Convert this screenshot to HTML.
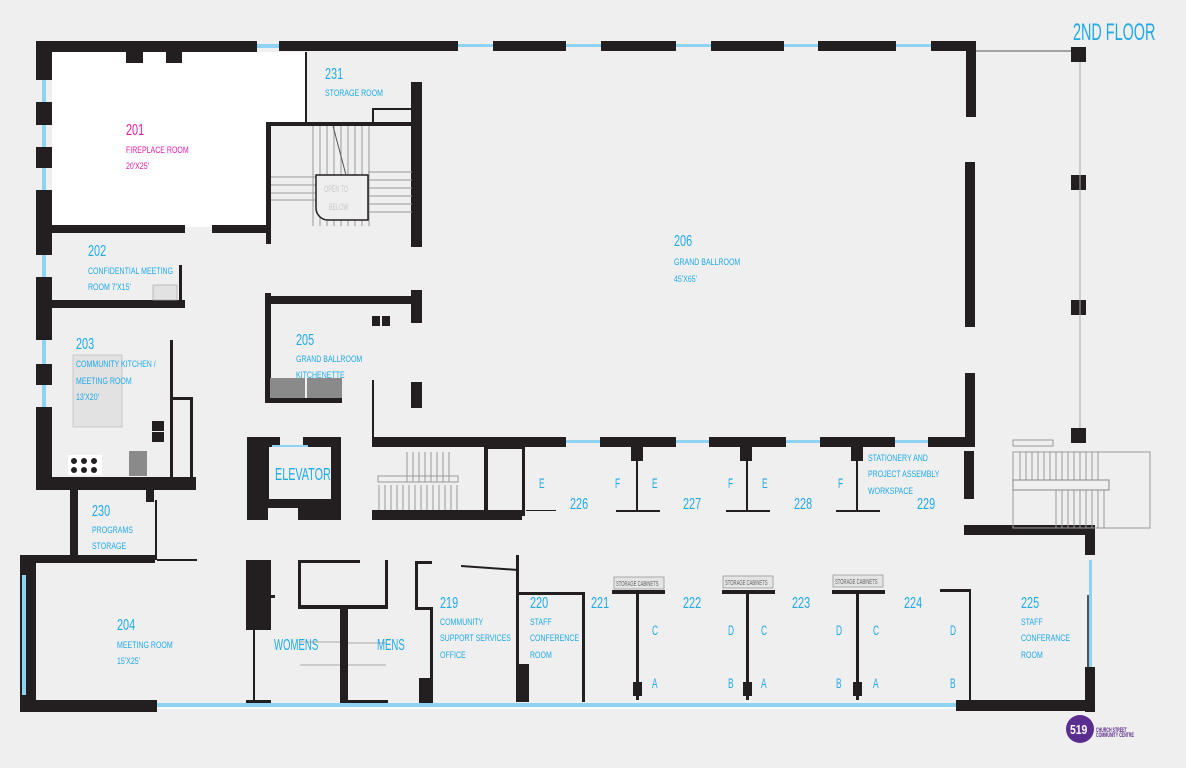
<!DOCTYPE html>
<html><head><meta charset="utf-8"><style>
html,body{margin:0;padding:0;background:#efefef;}
svg{display:block;}
text{font-family:"Liberation Sans",sans-serif;fill:#1fa9e6;transform-box:fill-box;transform-origin:0 50%;transform:scaleX(0.6);}
text.s{font-size:9px;transform:scaleX(0.78);}
.n{font-size:16px;}
text.n{transform:scaleX(0.68);}
.L{font-size:14px;}
</style></head><body>
<svg width="1186" height="768" viewBox="0 0 1186 768" xmlns="http://www.w3.org/2000/svg">
<rect width="1186" height="768" fill="#efefef"/>
<rect x="52" y="52" width="214" height="175" fill="#fff"/>
<rect x="266" y="52" width="40" height="70" fill="#fff"/>
<g fill="#231f20">
<rect x="36" y="41" width="221" height="11"/>
<rect x="279" y="41" width="179" height="10"/>
<rect x="493" y="41" width="73" height="10"/>
<rect x="601" y="41" width="75" height="10"/>
<rect x="711" y="41" width="73" height="10"/>
<rect x="818" y="41" width="78" height="10"/>
<rect x="931" y="41" width="45" height="10"/>
<rect x="126" y="52" width="17" height="11"/><rect x="166" y="52" width="16" height="11"/>
<rect x="966" y="41" width="10" height="76"/>
<rect x="965" y="162" width="10" height="165"/>
<rect x="965" y="373" width="10" height="72"/>
<rect x="1071" y="47" width="15" height="15"/>
<rect x="1071" y="175" width="15" height="15"/>
<rect x="1071" y="300" width="15" height="15"/>
<rect x="1071" y="428" width="15" height="15"/>
<rect x="36" y="41" width="16" height="39"/>
<rect x="36" y="102" width="16" height="23"/>
<rect x="36" y="147" width="16" height="21"/>
<rect x="36" y="190" width="16" height="65"/>
<rect x="36" y="277" width="16" height="63"/>
<rect x="36" y="364" width="16" height="21"/>
<rect x="36" y="407" width="16" height="83"/>
<rect x="52" y="225" width="133" height="8"/>
<rect x="212" y="225" width="58" height="8"/>
<rect x="266" y="122" width="5" height="122"/>
<rect x="266" y="122" width="150" height="4"/>
<rect x="411" y="82" width="11" height="165"/>
<rect x="305" y="52" width="2" height="70"/>
<rect x="372" y="108" width="40" height="2"/><rect x="372" y="108" width="2" height="14"/>
<rect x="52" y="300" width="133" height="8"/>
<rect x="179" y="265" width="3" height="40"/>
<rect x="36" y="477" width="160" height="13"/>
<rect x="170" y="340" width="3" height="138"/>
<rect x="172" y="397" width="20" height="3"/><rect x="190" y="397" width="3" height="82"/>
<rect x="70" y="490" width="8" height="72"/>
<rect x="146" y="490" width="8" height="12"/>
<rect x="155" y="500" width="2" height="60"/>
<rect x="20" y="555" width="135" height="8"/>
<rect x="157" y="559" width="40" height="2"/>
<rect x="20" y="555" width="16" height="155"/>
<rect x="20" y="700" width="137" height="12"/>
<rect x="265" y="293" width="6" height="110"/>
<rect x="265" y="296" width="151" height="8"/>
<rect x="411" y="290" width="11" height="33"/>
<rect x="411" y="382" width="11" height="26"/>
<rect x="265" y="398" width="77" height="5"/>
<rect x="372" y="316" width="8" height="10"/><rect x="382" y="316" width="8" height="10"/>
<rect x="372" y="380" width="2" height="60"/>
<path d="M247 437h33v10h-11v52h62v-52h-28v-10h38v83h-43v-12h-30v12h-21z" fill-rule="evenodd"/>
<rect x="372" y="437" width="194" height="10"/>
<rect x="600" y="437" width="76" height="10"/>
<rect x="709" y="437" width="77" height="10"/>
<rect x="820" y="437" width="75" height="10"/>
<rect x="928" y="437" width="47" height="10"/>
<rect x="631" y="447" width="12" height="14"/>
<rect x="740" y="447" width="12" height="14"/>
<rect x="851" y="447" width="12" height="14"/>
<rect x="636" y="461" width="2" height="50"/><rect x="616" y="510" width="44" height="2"/>
<rect x="746" y="461" width="2" height="50"/><rect x="726" y="510" width="44" height="2"/>
<rect x="856" y="461" width="2" height="50"/><rect x="836" y="510" width="44" height="2"/>
<rect x="526" y="510" width="30" height="1"/>
<rect x="372" y="510" width="150" height="10"/>
<rect x="484" y="446" width="4" height="70"/><rect x="522" y="446" width="3" height="70"/>
<rect x="484" y="446" width="40" height="3"/>
<rect x="964" y="451" width="10" height="48"/>
<rect x="964" y="525" width="131" height="10"/>
<rect x="1085" y="525" width="10" height="30"/>
<rect x="1085" y="667" width="10" height="45"/>
<rect x="246" y="560" width="25" height="70"/>
<rect x="270" y="595" width="5" height="3"/>
<rect x="298" y="560" width="62" height="3"/><rect x="298" y="560" width="3" height="47"/>
<rect x="298" y="605" width="90" height="4"/><rect x="385" y="560" width="3" height="48"/>
<rect x="340" y="608" width="8" height="95"/>
<rect x="415" y="561" width="3" height="48"/><rect x="415" y="561" width="17" height="3"/>
<rect x="415" y="607" width="17" height="3"/><rect x="430" y="607" width="3" height="95"/>
<rect x="419" y="678" width="14" height="24"/>
<path d="M461 565l57 4v2l-57-4z"/>
<rect x="516" y="555" width="3" height="147"/>
<rect x="516" y="664" width="13" height="38"/>
<rect x="519" y="592" width="64" height="3"/><rect x="582" y="592" width="3" height="110"/>
<rect x="253" y="630" width="2" height="72"/>
<rect x="612" y="590" width="53" height="4"/><rect x="636" y="594" width="3" height="106"/><rect x="633" y="682" width="9" height="14"/>
<rect x="722" y="590" width="53" height="4"/><rect x="746" y="594" width="3" height="106"/><rect x="743" y="682" width="9" height="14"/>
<rect x="832" y="590" width="53" height="4"/><rect x="856" y="594" width="3" height="106"/><rect x="853" y="682" width="9" height="14"/>
<rect x="940" y="589" width="30" height="3"/><rect x="969" y="589" width="2" height="113"/>
<rect x="956" y="700" width="139" height="11"/>
<rect x="246" y="700" width="25" height="8"/><rect x="340" y="700" width="48" height="8"/><rect x="419" y="700" width="14" height="8"/>
</g>
<rect x="270" y="378" width="35" height="20" fill="#8a8a8a"/><rect x="307" y="378" width="35" height="20" fill="#8a8a8a"/>
<rect x="129" y="451" width="18" height="25" fill="#8a8a8a"/>
<rect x="73" y="355" width="49" height="72" fill="#e2e2e2" stroke="#bbb" stroke-width="0.7"/>
<rect x="153" y="285" width="24" height="15" fill="#e2e2e2" stroke="#aaa" stroke-width="0.7"/>
<g fill="#231f20"><rect x="152" y="421" width="12" height="10"/><rect x="152" y="432" width="12" height="10"/></g>
<rect x="68" y="455" width="34" height="20" fill="#fff"/>
<g fill="#231f20"><circle cx="74" cy="461" r="3"/><circle cx="84" cy="461" r="3"/><circle cx="94" cy="461" r="3"/><circle cx="74" cy="470" r="3"/><circle cx="84" cy="470" r="3"/><circle cx="94" cy="470" r="3"/></g>
<g fill="#8fd3f2">
<rect x="257" y="44" width="22" height="4"/>
<rect x="458" y="44" width="35" height="3"/><rect x="566" y="44" width="35" height="3"/><rect x="676" y="44" width="35" height="3"/><rect x="784" y="44" width="34" height="3"/><rect x="896" y="44" width="35" height="3"/>
<rect x="42" y="80" width="4" height="22"/><rect x="42" y="125" width="4" height="22"/><rect x="42" y="168" width="4" height="22"/><rect x="42" y="255" width="4" height="22"/><rect x="42" y="340" width="4" height="24"/><rect x="42" y="385" width="4" height="22"/>
<rect x="566" y="440" width="34" height="3"/><rect x="676" y="440" width="33" height="3"/><rect x="786" y="440" width="34" height="3"/><rect x="895" y="440" width="33" height="3"/>
<rect x="22" y="575" width="4" height="120"/>
<rect x="157" y="703" width="799" height="4"/>
<rect x="1089" y="560" width="3" height="107"/>
<rect x="272" y="445" width="36" height="2"/>
</g>
<rect x="157" y="707" width="799" height="2" fill="#fff"/>
<g stroke="#555" stroke-width="1" fill="none">
<line x1="976" y1="51" x2="1071" y2="51"/>
<line x1="1080" y1="62" x2="1080" y2="428" stroke="#aaa"/>
<path d="M313 126v100M320 126v100M327 126v100M334 126v100M341 126v100M348 126v100M355 126v100M362 126v100M369 126v100" stroke="#999"/>
<path d="M271 177h45M271 185h45M271 193h45M271 200h45M368 172h44M368 180h44M368 188h44M368 196h44M368 204h44M368 212h44" stroke="#999"/>
<path d="M316 175h52v45h-40a12 12 0 0 1-12-12z" fill="#efefef" stroke="#231f20" stroke-width="1.5"/>
<line x1="333" y1="126" x2="346" y2="175"/>
<path d="M407 452v30M413 452v30M419 452v30M425 452v30M431 452v30M437 452v30M443 452v30M449 452v30M379 485v25M385 485v25M391 485v25M397 485v25M403 485v25M409 485v25M415 485v25M421 485v25M427 485v25M433 485v25M439 485v25M445 485v25M451 485v25M457 485v25" stroke="#999"/>
<rect x="378" y="476" width="80" height="6" stroke="#999"/>
<rect x="1013" y="440" width="40" height="6" stroke="#999"/>
<rect x="1013" y="452" width="137" height="76" stroke="#999"/>
<rect x="1013" y="480" width="96" height="10" stroke="#888"/>
<path d="M1020 452v28M1026 452v28M1032 452v28M1038 452v28M1044 452v28M1050 452v28M1056 452v28M1062 452v28M1068 452v28M1074 452v28M1080 452v28M1086 452v28M1092 452v28M1098 452v28M1056 490v38M1062 490v38M1068 490v38M1074 490v38M1080 490v38M1086 490v38M1092 490v38M1098 490v38M1104 490v38" stroke="#999"/>
<path d="M300 642h40M300 665h40M348 643h38M348 665h38" stroke="#aaa"/>
<line x1="1088" y1="595" x2="1088" y2="700" stroke="#231f20" stroke-width="1.5"/>
</g>
<g fill="#e4e4e4" stroke="#999" stroke-width="0.8">
<rect x="614" y="577" width="50" height="12"/><rect x="723" y="576" width="50" height="12"/><rect x="833" y="575" width="50" height="12"/>
</g>
<text x="616" y="586" style="fill:#666;font-size:7px">STORAGE CABINETS</text>
<text x="725" y="585" style="fill:#666;font-size:7px">STORAGE CABINETS</text>
<text x="835" y="584" style="fill:#666;font-size:7px">STORAGE CABINETS</text>
<text x="324" y="192" style="fill:#c8c8c8;font-size:9px">OPEN TO</text>
<text x="329" y="210" style="fill:#c8c8c8;font-size:9px">BELOW</text>
<text x="1073" y="40" style="font-size:24px">2ND FLOOR</text>
<text x="126" y="135" class="n" style="fill:#e21ca8">201</text>
<text x="126" y="153" class="s" style="fill:#e21ca8">FIREPLACE ROOM</text>
<text x="126" y="169" class="s" style="fill:#e21ca8">20'X25'</text>
<text x="325" y="79" class="n">231</text>
<text x="325" y="96" class="s">STORAGE ROOM</text>
<text x="88" y="256" class="n">202</text>
<text x="88" y="274" class="s">CONFIDENTIAL MEETING</text>
<text x="88" y="290" class="s">ROOM 7'X15'</text>
<text x="76" y="349" class="n">203</text>
<text x="76" y="367" class="s">COMMUNITY KITCHEN /</text>
<text x="76" y="384" class="s">MEETING ROOM</text>
<text x="76" y="400" class="s">13'X20'</text>
<text x="296" y="345" class="n">205</text>
<text x="296" y="362" class="s">GRAND BALLROOM</text>
<text x="296" y="378" class="s">KITCHENETTE</text>
<text x="674" y="246" class="n">206</text>
<text x="674" y="265" class="s">GRAND BALLROOM</text>
<text x="674" y="282" class="s">45'X65'</text>
<text x="275" y="480" style="font-size:18px">ELEVATOR</text>
<text x="92" y="516" class="n">230</text>
<text x="92" y="533" class="s">PROGRAMS</text>
<text x="92" y="549" class="s">STORAGE</text>
<text x="117" y="630" class="n">204</text>
<text x="117" y="648" class="s">MEETING ROOM</text>
<text x="117" y="664" class="s">15'X25'</text>
<text x="274" y="650" style="font-size:16px">WOMENS</text>
<text x="377" y="650" style="font-size:16px">MENS</text>
<text x="440" y="608" class="n">219</text>
<text x="440" y="625" class="s">COMMUNITY</text>
<text x="440" y="641" class="s">SUPPORT SERVICES</text>
<text x="440" y="658" class="s">OFFICE</text>
<text x="530" y="608" class="n">220</text>
<text x="530" y="625" class="s">STAFF</text>
<text x="530" y="641" class="s">CONFERENCE</text>
<text x="530" y="658" class="s">ROOM</text>
<text x="591" y="608" class="n">221</text>
<text x="683" y="608" class="n">222</text>
<text x="792" y="608" class="n">223</text>
<text x="904" y="608" class="n">224</text>
<text x="1021" y="608" class="n">225</text>
<text x="1021" y="625" class="s">STAFF</text>
<text x="1021" y="641" class="s">CONFERANCE</text>
<text x="1021" y="658" class="s">ROOM</text>
<text x="570" y="509" class="n">226</text>
<text x="683" y="509" class="n">227</text>
<text x="794" y="509" class="n">228</text>
<text x="917" y="509" class="n">229</text>
<text x="868" y="461" class="s">STATIONERY AND</text>
<text x="868" y="477" class="s">PROJECT ASSEMBLY</text>
<text x="868" y="494" class="s">WORKSPACE</text>
<text x="539" y="488" class="L">E</text><text x="615" y="488" class="L">F</text><text x="652" y="488" class="L">E</text><text x="728" y="488" class="L">F</text><text x="762" y="488" class="L">E</text><text x="838" y="488" class="L">F</text>
<text x="652" y="635" class="L">C</text><text x="728" y="635" class="L">D</text><text x="761" y="635" class="L">C</text><text x="836" y="635" class="L">D</text><text x="873" y="635" class="L">C</text><text x="950" y="635" class="L">D</text>
<text x="652" y="688" class="L">A</text><text x="728" y="688" class="L">B</text><text x="761" y="688" class="L">A</text><text x="836" y="688" class="L">B</text><text x="873" y="688" class="L">A</text><text x="950" y="688" class="L">B</text>
<circle cx="1080" cy="729" r="14" fill="#5b2d8e"/>
<text x="1070" y="734" style="fill:#fff;font-size:13px;font-weight:bold;transform:scaleX(0.8)">519</text>
<text x="1096" y="732" style="fill:#5b2d8e;font-size:6px;font-weight:bold">CHURCH STREET</text>
<text x="1096" y="737" style="fill:#5b2d8e;font-size:6px;font-weight:bold">COMMUNITY CENTRE</text>
</svg>
</body></html>
